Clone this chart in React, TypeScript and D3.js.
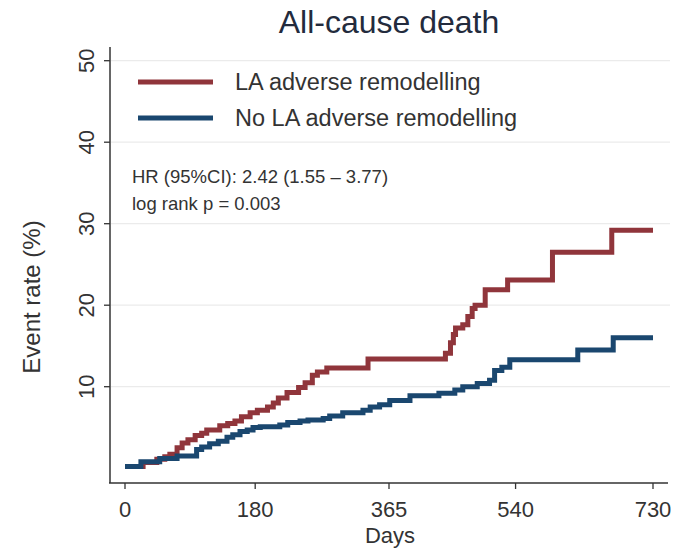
import React from "react";
import * as d3 from "d3";

const WIDTH = 691;
const HEIGHT = 549;

// days / cumulative event rate (%)
const laDays = [0, 25, 44, 55, 62, 72, 79, 87, 97, 106, 113, 131, 142, 152, 161, 173, 183, 197, 205, 212, 224, 240, 249, 259, 266, 279, 336, 443, 450, 454, 457, 467, 474, 480, 484, 498, 529, 591, 673, 730];
const laRate = [0.2, 0.7, 1.1, 1.4, 1.7, 2.5, 3.1, 3.5, 4.0, 4.3, 4.7, 5.2, 5.5, 5.8, 6.3, 6.8, 7.1, 7.5, 8.0, 8.6, 9.3, 9.9, 10.5, 11.4, 11.8, 12.3, 13.4, 14.1, 15.4, 16.4, 17.2, 17.6, 18.6, 19.6, 20.0, 21.9, 23.1, 26.5, 29.2, 29.2];

const noDays = [0, 22, 48, 72, 99, 106, 117, 129, 141, 149, 159, 169, 177, 187, 214, 225, 242, 253, 274, 283, 301, 329, 339, 352, 366, 394, 434, 456, 467, 487, 504, 511, 521, 532, 626, 675, 730];
const noRate = [0.2, 0.8, 1.2, 1.5, 2.3, 2.6, 3.0, 3.3, 3.8, 4.1, 4.5, 4.7, 5.0, 5.1, 5.3, 5.6, 5.8, 5.9, 6.1, 6.4, 6.8, 7.1, 7.5, 7.8, 8.3, 8.9, 9.2, 9.6, 10.0, 10.4, 10.8, 12.0, 12.4, 13.3, 14.5, 16.0, 16.0];

const xTicks = [0, 180, 365, 540, 730];
const yTicks = [10, 20, 30, 40, 50];
const seriesNames = ["LA adverse remodelling", "No LA adverse remodelling"];
const statLines = ["HR (95%CI): 2.42 (1.55 \u2013 3.77)", "log rank p = 0.003"];

const RED = "#90353b";
const BLUE = "#1a476f";
const FONT = "'Liberation Sans', Arial, sans-serif";

const xScale = d3.scaleLinear().domain([0, 730]).range([125, 653]);
const yScale = d3.scaleLinear().domain([0, 50]).range([468.2, 60.7]);

const line = d3
  .line<[number, number]>()
  .x((d) => xScale(d[0]))
  .y((d) => yScale(d[1]))
  .curve(d3.curveStepAfter);

const pairs = (days: number[], rates: number[]) =>
  days.map((d, i) => [d, rates[i]] as [number, number]);

export default function App() {
  const series = [
    { name: seriesNames[0], color: RED, points: pairs(laDays, laRate) },
    { name: seriesNames[1], color: BLUE, points: pairs(noDays, noRate) },
  ];

  return (
    <svg
      width={WIDTH}
      height={HEIGHT}
      style={{ position: "absolute", left: 0, top: 0, background: "#fff" }}
      fontFamily={FONT}
    >
      <text x={389} y={33} textAnchor="middle" fontSize={32} fill="#232b3d">
        All-cause death
      </text>

      {/* grid */}
      {yTicks.map((t) => (
        <line key={"g" + t} x1={111} x2={670} y1={yScale(t)} y2={yScale(t)} stroke="#ebebeb" strokeWidth={1.2} />
      ))}

      {/* y axis */}
      <line x1={110} x2={110} y1={47} y2={483} stroke="#333" strokeWidth={1.5} />
      {yTicks.map((t) => (
        <g key={"y" + t} transform={`translate(110, ${yScale(t)})`}>
          <line x1={-6} x2={0} stroke="#333" strokeWidth={1.3} />
          <text transform="translate(-24, 0) rotate(-90)" textAnchor="middle" dy="0.35em" fontSize={22} fill="#333">
            {t}
          </text>
        </g>
      ))}
      <text transform="translate(40, 297) rotate(-90)" textAnchor="middle" fontSize={24} fill="#333">
        Event rate (%)
      </text>

      {/* x axis */}
      <line x1={109} x2={668} y1={483} y2={483} stroke="#333" strokeWidth={1.5} />
      {xTicks.map((t) => (
        <g key={"x" + t} transform={`translate(${xScale(t)}, 483)`}>
          <line y1={0} y2={6} stroke="#333" strokeWidth={1.3} />
          <text y={34} textAnchor="middle" fontSize={22} fill="#333">
            {t}
          </text>
        </g>
      ))}
      <text x={390} y={543} textAnchor="middle" fontSize={22} fill="#333">
        Days
      </text>

      {/* curves */}
      {series.map((s) => (
        <path key={s.name} d={line(s.points) || ""} fill="none" stroke={s.color} strokeWidth={5} strokeLinejoin="miter" />
      ))}

      {/* legend */}
      {series.map((s, i) => (
        <g key={"l" + s.name} transform={`translate(138, ${82 + i * 36})`}>
          <line x1={0} x2={75} stroke={s.color} strokeWidth={5} />
          <text x={97} y={0} dy="0.35em" fontSize={23.5} fill="#333">
            {s.name}
          </text>
        </g>
      ))}

      {statLines.map((txt, i) => (
        <text key={txt} x={132} y={183 + i * 27} fontSize={18.5} fill="#333">
          {txt}
        </text>
      ))}
    </svg>
  );
}
